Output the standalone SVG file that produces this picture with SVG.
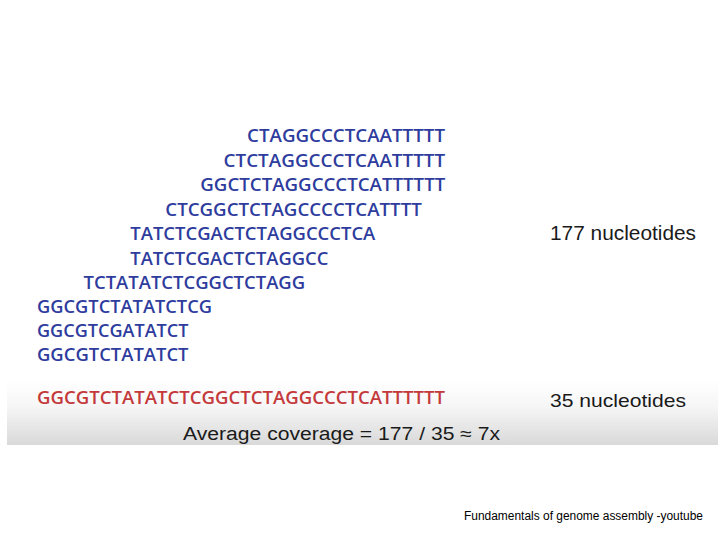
<svg xmlns="http://www.w3.org/2000/svg" width="720" height="540" viewBox="0 0 720 540">
  <defs>
    <linearGradient id="shade" x1="0" y1="0" x2="0" y2="1">
      <stop offset="0" stop-color="#ffffff"/>
      <stop offset="0.4" stop-color="#f6f6f6"/>
      <stop offset="1" stop-color="#d9d9d9"/>
    </linearGradient>
  </defs>
  <style>
    .seq { font-family: "Open Sans", "DejaVu Sans", sans-serif; font-weight: 600; font-size: 17.5px; fill: #2e3c9e; }
    .ref { font-family: "Open Sans", "DejaVu Sans", sans-serif; font-weight: 600; font-size: 17.5px; fill: #c4393b; }
    .lbl { font-family: "Liberation Sans", Arial, sans-serif; fill: #1a1a1a; }
    .foot { font-family: "Liberation Sans", Arial, sans-serif; font-size: 12px; fill: #000; }
  </style>
  <rect x="0" y="0" width="720" height="540" fill="#ffffff"/>
  <rect x="7" y="380" width="711" height="65" fill="url(#shade)"/>

  <g id="reads">
    <text class="seq" x="247" y="142" textLength="198" lengthAdjust="spacingAndGlyphs">CTAGGCCCTCAATTTTT</text>
    <text class="seq" x="223.6" y="166.5" textLength="221.5" lengthAdjust="spacingAndGlyphs">CTCTAGGCCCTCAATTTTT</text>
    <text class="seq" x="200.3" y="191" textLength="245" lengthAdjust="spacingAndGlyphs">GGCTCTAGGCCCTCATTTTTT</text>
    <text class="seq" x="165.3" y="215.5" textLength="256.5" lengthAdjust="spacingAndGlyphs">CTCGGCTCTAGCCCCTCATTTT</text>
    <text class="seq" x="130.3" y="240" textLength="245" lengthAdjust="spacingAndGlyphs">TATCTCGACTCTAGGCCCTCA</text>
    <text class="seq" x="130.3" y="264.5" textLength="198" lengthAdjust="spacingAndGlyphs">TATCTCGACTCTAGGCC</text>
    <text class="seq" x="83.6" y="289" textLength="221.5" lengthAdjust="spacingAndGlyphs">TCTATATCTCGGCTCTAGG</text>
    <text class="seq" x="37" y="313" textLength="175" lengthAdjust="spacingAndGlyphs">GGCGTCTATATCTCG</text>
    <text class="seq" x="37" y="337" textLength="151.5" lengthAdjust="spacingAndGlyphs">GGCGTCGATATCT</text>
    <text class="seq" x="37" y="361" textLength="151.5" lengthAdjust="spacingAndGlyphs">GGCGTCTATATCT</text>
  </g>

  <g id="reference">
    <text class="ref" x="37" y="404" textLength="408" lengthAdjust="spacingAndGlyphs">GGCGTCTATATCTCGGCTCTAGGCCCTCATTTTTT</text>
  </g>

  <g id="labels">
    <text class="lbl" x="550" y="240" font-size="19.5" textLength="146" lengthAdjust="spacingAndGlyphs">177 nucleotides</text>
    <text class="lbl" x="550" y="407" font-size="18.5" textLength="136" lengthAdjust="spacingAndGlyphs">35 nucleotides</text>
    <text class="lbl" x="183" y="440" font-size="18" textLength="317" lengthAdjust="spacingAndGlyphs">Average coverage = 177 / 35 ≈ 7x</text>
  </g>

  <g id="connectors"/>

  <g id="footer">
    <text class="foot" x="464" y="520" textLength="239" lengthAdjust="spacingAndGlyphs">Fundamentals of genome assembly -youtube</text>
  </g>
</svg>
